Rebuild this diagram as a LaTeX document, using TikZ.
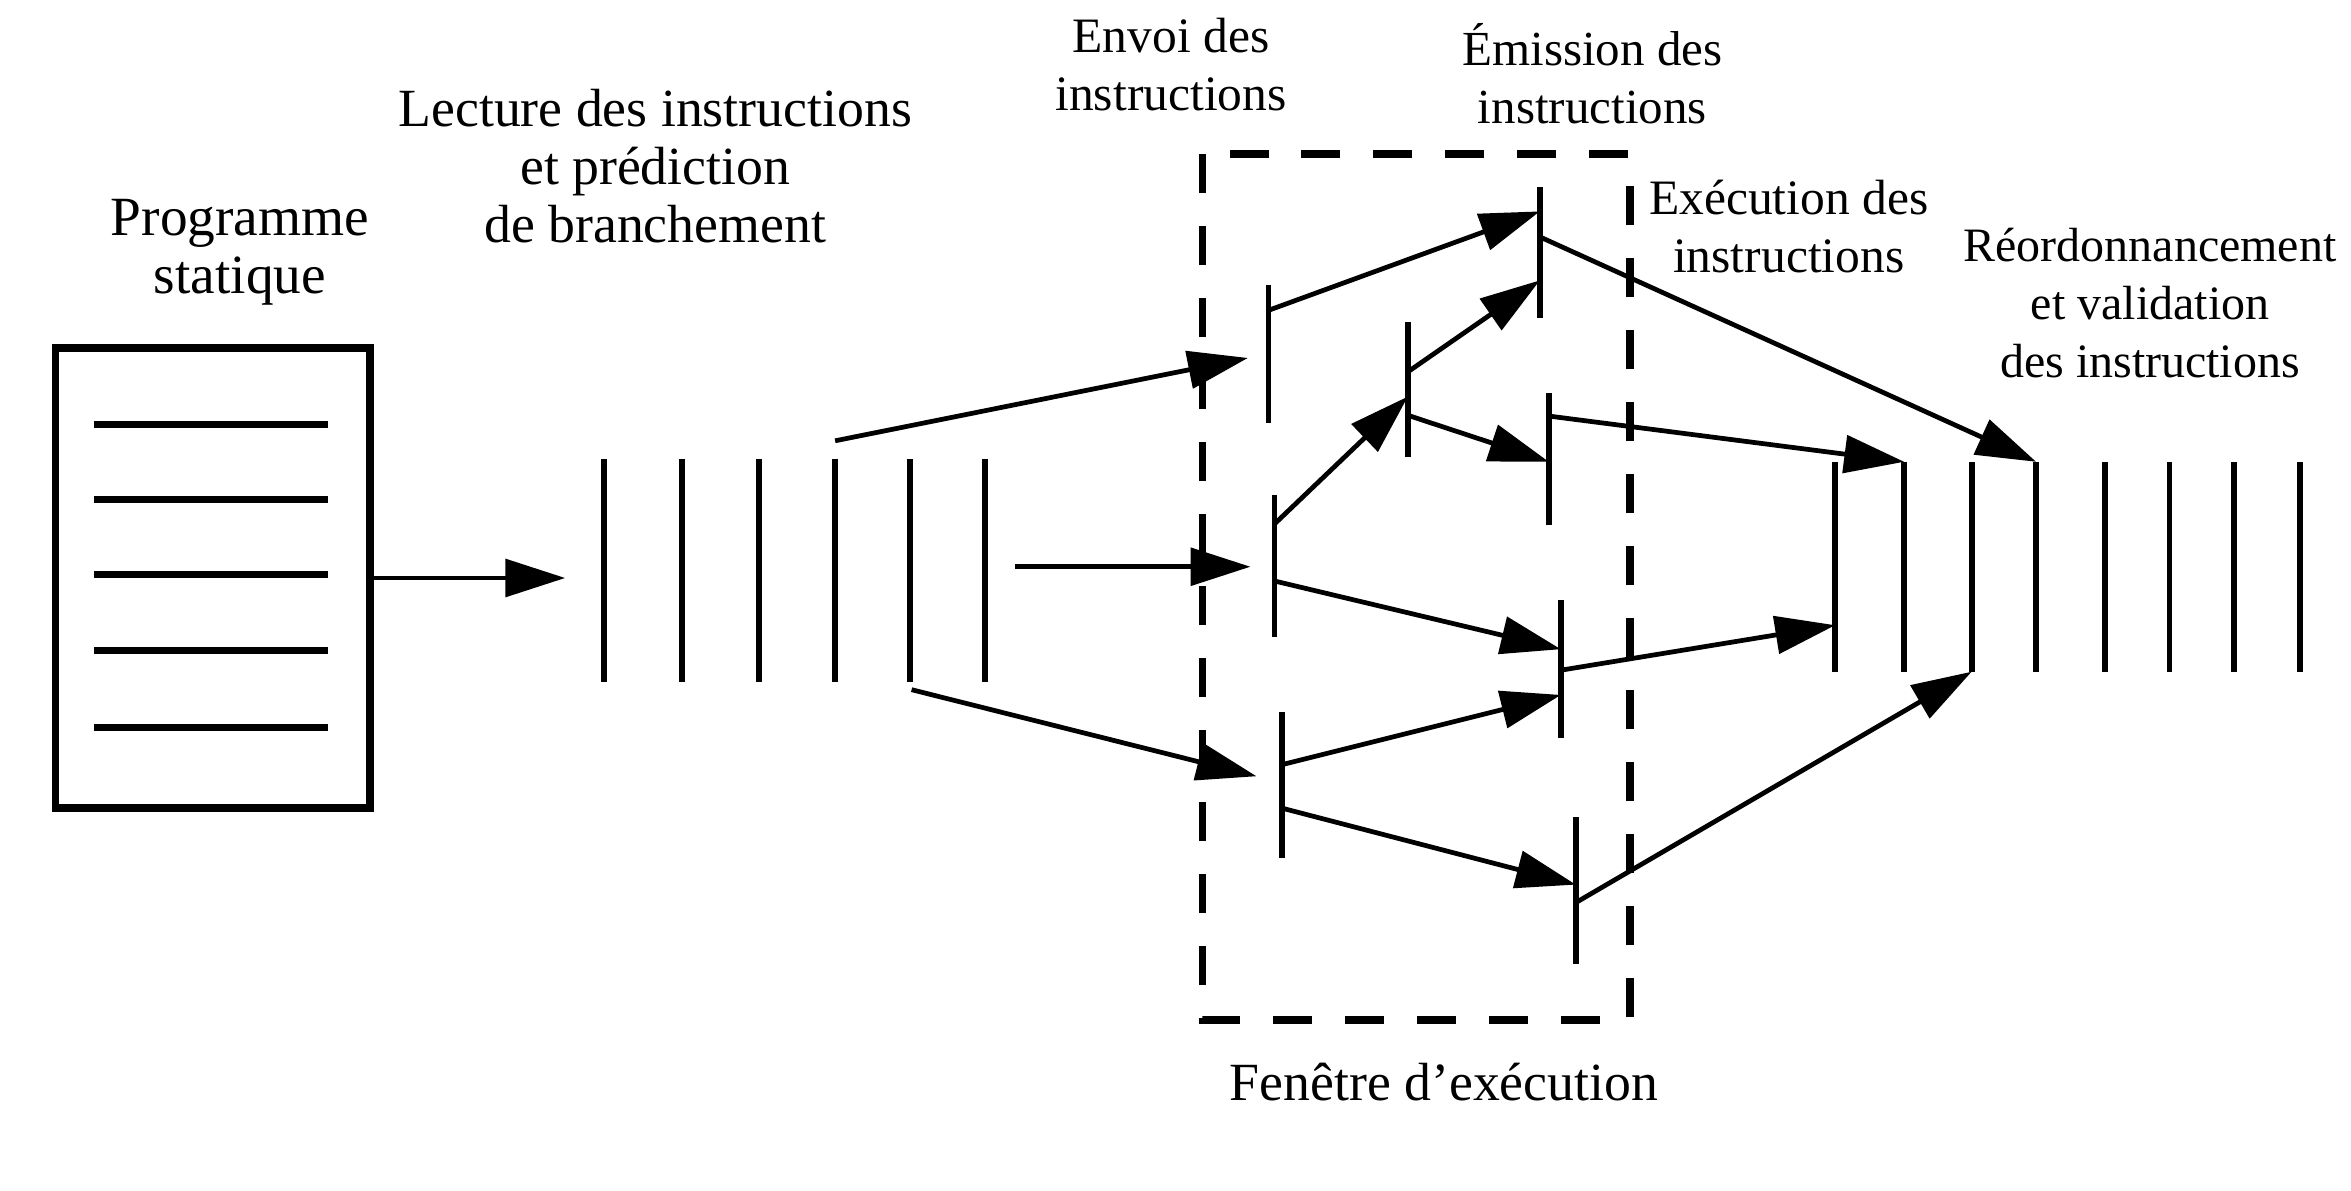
\documentclass[tikz,border=0pt]{standalone}
\usepackage{fontspec}
\setmainfont{Liberation Serif}
\usetikzlibrary{arrows.meta}

\begin{document}
\begin{tikzpicture}[x=0.1mm, y=-0.1mm,
		lbl/.style={align=center, font=\fontsize{#1}{11}\selectfont},
		lbl/.default=10.2,
		arr/.style={-{Triangle[length=4mm,width=2.5mm]}, line width=0.9pt},
		tick/.style={line width=1.1pt},
		window/.style={line width=1.5pt, dash pattern=on 2.6mm off 2.2mm}]
	\useasboundingbox (0,0) rectangle (1568,794);
		\node [draw, line width=1.5pt, minimum width=21mm, minimum height=30.7mm] (prog) at (142,385.5) {};
		\foreach \y in {283,333,383,434,485}
			\draw [line width=1.3pt] (63,\y) -- (219,\y);
		\foreach \x [count=\i] in {403,455,506,557,607,657}
			\draw [tick] (\x,306) coordinate (f\i) -- (\x,455) coordinate (fb\i);
		\foreach \x [count=\i] in {1224,1270,1315,1358,1404,1447,1490,1534}
			\draw [tick] (\x,308) coordinate (r\i) -- (\x,448) coordinate (rb\i);
		\foreach \n/\x/\ya/\yb in {d1/846/190/282, d2/850/330/425, d3/855/475/572, i2/939/215/305, i1/1027/125/212, e1/1033/262/350, e2/1041/400/492, e3/1051/545/643}
			\draw [tick] (\x,\ya) coordinate (\n) -- (\x,\yb);
		\draw [window] (802,103) rectangle (1087,680);
		\node [lbl=10.5] (tprog) at (160,168) {Programme\\statique};
		\node [lbl] (tfetch) at (437,111) {Lecture des instructions\\et prédiction\\de branchement};
		\node [lbl=9.4] (tdisp) at (781,43) {Envoi des\\instructions};
		\node [lbl=9.3] (tissue) at (1062,49) {Émission des\\instructions};
		\node [lbl=9.4] (texec) at (1193,151) {Exécution des\\instructions};
		\node [lbl=9.1] (tretire) at (1434,202) {Réordonnancement\\et validation\\des instructions};
		\node [lbl] (twin) at (963,722) {Fenêtre d’exécution};
		\coordinate (fu) at (557,294);
		\coordinate (fm) at (677,378);
		\coordinate (fl) at (608,460);
		\draw [arr, shorten >=2.6mm] (prog.east) -- (prog.east -| f1);
		\draw [arr, shorten >=1.4mm] (fu) -- (d1 |- 0,236);
		\draw [arr, shorten >=1.6mm] (fm) -- (d2 |- 0,378);
		\draw [arr, shorten >=1.75mm] (fl) -- (d3 |- 0,522);
		\draw [arr] (d1 |- 0,207) -- (i1 |- 0,141);
		\draw [arr] (d2 |- 0,349.5) -- (i2 |- 0,264.5);
		\draw [arr] (i2 |- 0,248) -- (i1 |- 0,187);
		\draw [arr] (i2 |- 0,277) -- (e1 |- 0,308);
		\draw [arr] (d2 |- 0,387.5) -- (e2 |- 0,433);
		\draw [arr] (d3 |- 0,510) -- (e2 |- 0,463.5);
		\draw [arr] (d3 |- 0,539) -- (e3 |- 0,590);
		\draw [arr] (i1 |- 0,158) -- (r4);
		\draw [arr] (e1 |- 0,277.5) -- (r2);
		\draw [arr] (e2 |- 0,447) -- (r1 |- 0,417);
		\draw [arr] (e3 |- 0,602) -- (rb3);
	\end{tikzpicture}
\end{document}
